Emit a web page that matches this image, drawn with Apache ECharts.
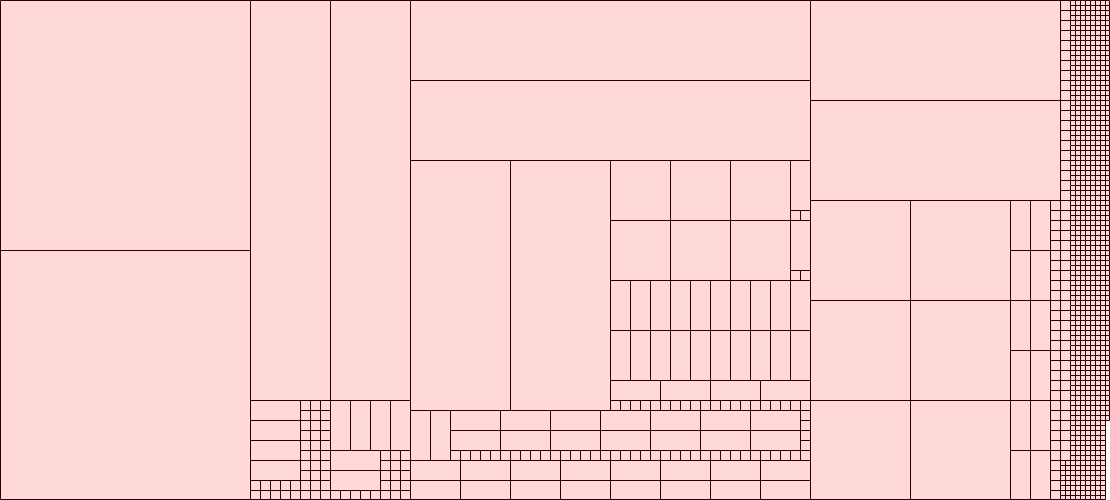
<!DOCTYPE html>
<html>
<head>
<meta charset="utf-8">
<script src="https://cdn.jsdelivr.net/npm/echarts/dist/echarts.min.js"></script>
<style>
  html, body { margin: 0; padding: 0; background: #ffffff; }
  #chart { width: 1110px; height: 500px; }
</style>
</head>
<body>
<div id="chart"></div>
<script>
// ---- values (nested groups, slice-and-dice order) ----
function rep(n, v) { var a = []; for (var i = 0; i < n; i++) a.push(v); return a; }

const blockA = [62500, 62500];

const b1Rows = [1000, 1000, 1000, 1000, [[100, 100], [100, 100], [100, 100], [100, 100], [100, 100]]];
const b1Side = rep(10, [100, 100, 100]);
const blockB1 = [32000, [b1Rows, b1Side]];

const b2Top = [1000, 1000, 1000, 1000];
const b2Mid = [[1000, 1000], [[100, 100, 100], [100, 100, 100], [100, 100, 100], [100, 100, 100]]];
const b2Foot = [100, 100, 100, 100, 100, 100, 100, 100];
const blockB2 = [32000, [[b2Top, [[b2Mid, b2Foot]]]]];

const cSquaresRow = [3600, 3600, 3600, [1000, [100, 100]]];
const cTallRow = rep(10, 1000);
const cWideRow = [1000, 1000, 1000, 1000];
const cTinyRow = rep(20, 100);
const cMiddle = [25000, 25000, [cSquaresRow, cSquaresRow, cTallRow, cTallRow, cWideRow, cTinyRow]];
const cLowerCol = [1000, 1000, [100, 100, 100, 100, 100]];
const cLower1 = [1000, 1000].concat(rep(7, cLowerCol), [[100, 100, 100, 100, 100]]);
const cLower2 = rep(8, [1000, 1000]);
const blockC = [32000, 32000, cMiddle, cLower1, cLower2];

const blockD = [25000, 25000, [[10000, 10000, 10000], [10000, 10000, 10000], rep(6, 1000), rep(6, 1000), rep(30, 100)]];

const eRow = [100].concat(rep(8, [25, 25]));
const eRowCut = [100].concat(rep(7, [25, 25]), [{ gap: 50 }]);
const eBottom = rep(9, rep(8, 25)).concat([{ gap: 200 }]);
const blockE = rep(42, eRow).concat(rep(4, eRowCut), [eBottom]);

const rootBlocks = [blockA, blockB1, blockB2, blockC, blockD, blockE];

// ---- slice-and-dice layout in value space (fractions of the whole) ----
function total(n) {
  if (typeof n === 'number') return n;
  if (!Array.isArray(n)) return n.gap;
  var s = 0;
  for (var i = 0; i < n.length; i++) s += total(n[i]);
  return s;
}
function layout(node, x0, y0, x1, y1, depth, out) {
  if (typeof node === 'number') { out.push([x0, y0, x1, y1]); return; }
  if (!Array.isArray(node)) return; // empty part of the picture
  var sum = total(node), acc = 0;
  for (var i = 0; i < node.length; i++) {
    var v = total(node[i]);
    if (depth % 2 === 0) {
      layout(node[i], x0 + (x1 - x0) * acc / sum, y0, x0 + (x1 - x0) * (acc + v) / sum, y1, depth + 1, out);
    } else {
      layout(node[i], x0, y0 + (y1 - y0) * acc / sum, x1, y0 + (y1 - y0) * (acc + v) / sum, depth + 1, out);
    }
    acc += v;
  }
}
const cells = [];
layout(rootBlocks, 0, 0, 1, 1, 0, cells);

const FILL = '#ffd9d9';
const STROKE = '#2b0000';

const chart = echarts.init(document.getElementById('chart'), null, { renderer: 'canvas' });
chart.setOption({
  animation: false,
  backgroundColor: '#ffffff',
  grid: { left: 0, right: 0, top: 0, bottom: 0, containLabel: false },
  xAxis: { type: 'value', min: 0, max: 1, show: false },
  yAxis: { type: 'value', min: 0, max: 1, inverse: true, show: false },
  series: [{
    type: 'custom',
    progressive: 0,
    silent: true,
    encode: { x: [0, 2], y: [1, 3] },
    data: cells,
    renderItem: function (params, api) {
      var p0 = api.coord([api.value(0), api.value(1)]);
      var p1 = api.coord([api.value(2), api.value(3)]);
      var W = api.getWidth(), H = api.getHeight();
      var x0 = Math.round(p0[0]), y0 = Math.round(p0[1]);
      var x1 = Math.min(Math.round(p1[0]), W - 1);
      var y1 = Math.min(Math.round(p1[1]), H - 1);
      return {
        type: 'rect',
        shape: { x: x0 + 0.5, y: y0 + 0.5, width: x1 - x0, height: y1 - y0 },
        style: { fill: FILL, stroke: STROKE, lineWidth: 1 }
      };
    }
  }]
});
</script>
</body>
</html>
